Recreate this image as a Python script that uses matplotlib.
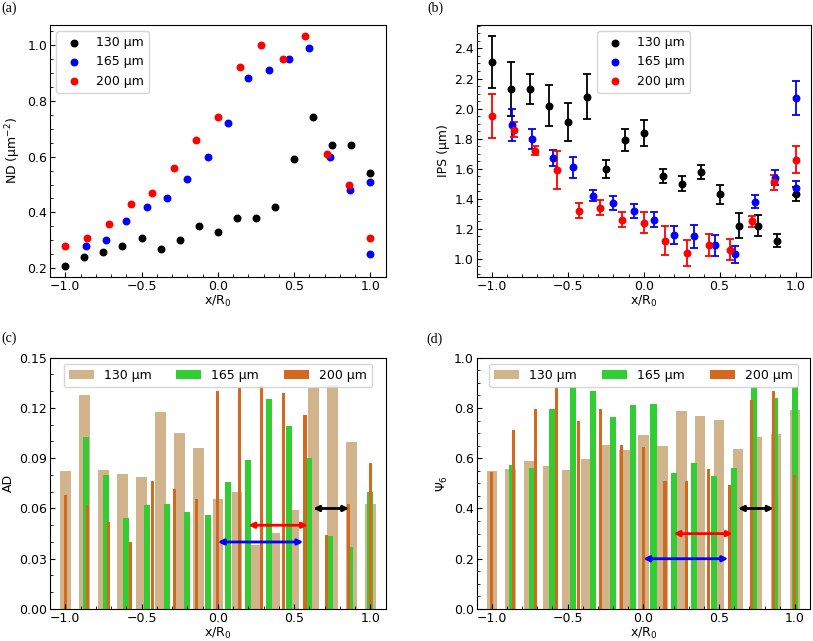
import matplotlib
matplotlib.use("Agg")
import matplotlib.pyplot as plt
from matplotlib.ticker import AutoMinorLocator, MultipleLocator

plt.rcParams['font.family'] = ['DejaVu Sans']
plt.rcParams['font.size'] = 9

labels = ['130 µm', '165 µm', '200 µm']

# x positions (x/R0)
x130 = [-1.0, -0.875, -0.75, -0.625, -0.5, -0.375, -0.25, -0.125, 0.0,
        0.125, 0.25, 0.375, 0.5, 0.625, 0.75, 0.875, 1.0]
x165 = [-0.867, -0.733, -0.6, -0.467, -0.333, -0.2, -0.067, 0.067,
        0.2, 0.333, 0.467, 0.6, 0.733, 0.867, 1.0, 1.0]
x200 = [-1.0, -0.857, -0.714, -0.571, -0.429, -0.286, -0.143, 0.0,
        0.143, 0.286, 0.429, 0.571, 0.714, 0.857, 1.0]

# (a) ND
nd130 = [0.21, 0.24, 0.26, 0.28, 0.31, 0.27, 0.30, 0.35, 0.33, 0.38, 0.38,
         0.42, 0.59, 0.74, 0.64, 0.64, 0.54]
nd165 = [0.28, 0.30, 0.37, 0.42, 0.45, 0.52, 0.60, 0.72, 0.88, 0.91, 0.95,
         0.99, 0.60, 0.48, 0.51, 0.25]
nd200 = [0.28, 0.31, 0.36, 0.43, 0.47, 0.56, 0.66, 0.74, 0.92, 1.00, 0.95,
         1.03, 0.61, 0.50, 0.31]

# (b) IPS with errors
ips130 = [2.31, 2.13, 2.13, 2.02, 1.91, 2.08, 1.60, 1.79, 1.84, 1.55, 1.50,
          1.58, 1.43, 1.22, 1.22, 1.12, 1.43]
err130 = [0.17, 0.18, 0.10, 0.135, 0.128, 0.15, 0.06, 0.075, 0.087, 0.048,
          0.05, 0.047, 0.062, 0.083, 0.07, 0.044, 0.047]
ips165 = [1.89, 1.80, 1.67, 1.61, 1.42, 1.37, 1.32, 1.26, 1.16, 1.15, 1.09,
          1.03, 1.38, 1.54, 2.07, 1.47]
err165 = [0.105, 0.066, 0.053, 0.07, 0.037, 0.048, 0.048, 0.05, 0.061, 0.077,
          0.07, 0.058, 0.045, 0.052, 0.112, 0.047]
ips200 = [1.95, 1.86, 1.72, 1.59, 1.32, 1.34, 1.26, 1.24, 1.12, 1.04, 1.09,
          1.06, 1.25, 1.51, 1.66]
err200 = [0.149, 0.049, 0.029, 0.125, 0.049, 0.05, 0.05, 0.069, 0.098, 0.085,
          0.073, 0.071, 0.037, 0.049, 0.088]

# (c) AD
ad130 = [0.0826, 0.1275, 0.083, 0.0808, 0.0786, 0.1177, 0.1049, 0.0959,
         0.0656, 0.070, 0.0383, 0.0455, 0.0588, 0.1322, 0.134, 0.0999, 0.0624]
ad165 = [0.1029, 0.080, 0.0545, 0.062, 0.0624, 0.0578, 0.0562, 0.0756,
         0.0888, 0.1251, 0.1093, 0.090, 0.0435, 0.0369, 0.0698]
ad200 = [0.068, 0.0618, 0.0519, 0.0399, 0.0764, 0.0718, 0.0658, 0.1302,
         0.132, 0.1332, 0.129, 0.1155, 0.0441, 0.0628, 0.087]

# (d) Psi6
psi130 = [0.548, 0.559, 0.590, 0.568, 0.555, 0.596, 0.653, 0.634, 0.694,
          0.649, 0.789, 0.769, 0.753, 0.636, 0.686, 0.697, 0.791]
psi165 = [0.574, 0.561, 0.797, 0.883, 0.868, 0.763, 0.811, 0.815, 0.543,
          0.581, 0.531, 0.562, 0.883, 0.838, 0.883]
psi200 = [0.544, 0.713, 0.797, 0.880, 0.750, 0.794, 0.653, 0.645, 0.511,
          0.511, 0.559, 0.492, 0.830, 0.866, 0.535]

# range arrows (x start, x end, y level) for (c) and (d)
arrows_c = {'blue': (0.0, 0.56, 0.04), 'red': (0.2, 0.59, 0.05), 'black': (0.625, 0.86, 0.06)}
arrows_d = {'blue': (0.0, 0.56, 0.2), 'red': (0.2, 0.59, 0.3), 'black': (0.625, 0.86, 0.4)}

W, H = 813, 641
fig = plt.figure(figsize=(W / 100, H / 100), dpi=100)


def rect(l, t, r, b):
    return [l / W, 1 - b / H, (r - l) / W, (b - t) / H]


axA = fig.add_axes(rect(50, 25, 385.7, 277))
axB = fig.add_axes(rect(476.7, 25, 810.7, 277))
axC = fig.add_axes(rect(50, 357.7, 385.7, 609))
axD = fig.add_axes(rect(476.7, 357.7, 810, 609))

dot_cols = ['black', 'blue', 'red']
bar_cols = ['tan', 'limegreen', 'chocolate']

# (a)
for xs, ys, c, lab in zip([x130, x165, x200], [nd130, nd165, nd200], dot_cols, labels):
    axA.scatter(xs, ys, s=22, color=c, label=lab, zorder=3)
axA.set_ylabel('ND (µm$^{-2}$)', labelpad=3)
axA.legend(loc='upper left')

# (b)
for xs, ys, es, c, lab in zip([x130, x165, x200], [ips130, ips165, ips200],
                              [err130, err165, err200], dot_cols, labels):
    axB.errorbar(xs, ys, yerr=es, fmt='none', ecolor=c, elinewidth=1.3,
                 capsize=3, capthick=1.3, zorder=2)
    axB.scatter(xs, ys, s=22, color=c, label=lab, zorder=3)
axB.set_ylabel('IPS (µm)', labelpad=3)
axB.legend(loc='upper center')

# (c) and (d)
widths = [0.07, 0.04, 0.02]
for ax, sets, arrows in [(axC, [ad130, ad165, ad200], arrows_c),
                         (axD, [psi130, psi165, psi200], arrows_d)]:
    for xs, ys, c, w, lab in zip([x130, x165[:15], x200], sets, bar_cols, widths, labels):
        ax.bar(xs, ys, width=w, color=c, label=lab)
    for c, (x0, x1, yv) in arrows.items():
        ax.annotate('', xy=(x1, yv), xytext=(x0, yv),
                    arrowprops=dict(arrowstyle='<|-|>', color=c, lw=2,
                                    mutation_scale=8, shrinkA=0, shrinkB=0),
                    zorder=5)
    ax.legend(loc='upper center', ncol=3)

axC.set_ylim(0, 0.15)
axC.yaxis.set_major_locator(MultipleLocator(0.03))
axC.yaxis.set_minor_locator(MultipleLocator(0.01))
axC.set_ylabel('AD', labelpad=3)
axD.set_ylim(0, 1.0)
axD.yaxis.set_major_locator(MultipleLocator(0.2))
axD.set_ylabel('Ψ$_6$', labelpad=3)
axC.set_xlim(-1.1, 1.1)
axD.set_xlim(-1.1, 1.1)

for ax in [axA, axB, axC, axD]:
    ax.set_xlabel('x/R$_0$', labelpad=1)
    ax.xaxis.set_major_locator(MultipleLocator(0.5))
    ax.xaxis.set_minor_locator(MultipleLocator(0.1))
    if ax is not axC:
        ax.yaxis.set_minor_locator(AutoMinorLocator())
    ax.tick_params(which='both', direction='in', top=False, right=False, pad=2)

ser = ['Liberation Serif', 'DejaVu Serif']
fig.text(1 / W, 1 - 8 / H, '(a)', family=ser, fontsize=10, va='center', ha='left')
fig.text(427 / W, 1 - 8 / H, '(b)', family=ser, fontsize=10, va='center', ha='left')
fig.text(1 / W, 1 - 338 / H, '(c)', family=ser, fontsize=10, va='center', ha='left')
fig.text(426 / W, 1 - 339 / H, '(d)', family=ser, fontsize=10, va='center', ha='left')

fig.savefig('out.png', dpi=100)
